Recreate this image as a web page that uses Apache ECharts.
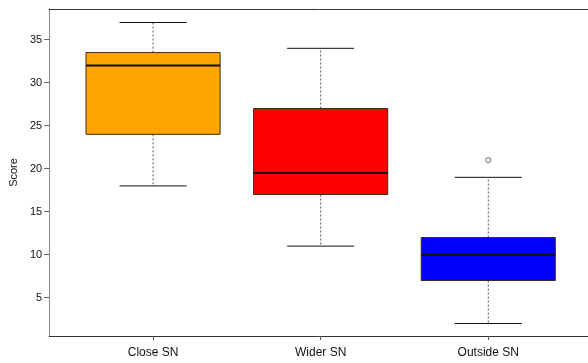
<!DOCTYPE html>
<html><head><meta charset="utf-8">
<script src="https://cdn.jsdelivr.net/npm/echarts@6/dist/echarts.min.js"></script>
<style>html,body{margin:0;padding:0;background:#fff}#c{width:588px;height:363px}</style>
</head><body><div id="c"></div>
<script>
const categories = ['Close SN', 'Wider SN', 'Outside SN'];
const lowerWhisker = [18, 11, 2];
const q1 = [24, 17, 7];
const median = [32, 19.5, 10];
const q3 = [33.5, 27, 12];
const upperWhisker = [37, 34, 19];
const outlierCategory = [2];
const outlierValue = [21];
const yTicks = [5, 10, 15, 20, 25, 30, 35];

const boxColors = ['#FFA500', '#FF0000', '#0000FF'];
const catPos = categories.map((c, i) => i + 1);

const boxData = categories.map((c, i) => [catPos[i], lowerWhisker[i], q1[i], median[i], q3[i], upperWhisker[i]]);
const outData = outlierCategory.map((ci, k) => [catPos[ci], outlierValue[k]]);

const chart = echarts.init(document.getElementById('c'), null, {renderer: 'canvas'});
const font = 'Liberation Sans, Arial, sans-serif';

chart.setOption({
  animation: false,
  backgroundColor: '#fff',
  grid: {left: 48, top: 9, width: 540, bottom: 27, containLabel: false},
  xAxis: [{
    type: 'value', min: 0.38, max: 3.595,
    axisLine: {show: true, lineStyle: {color: '#333', width: 1}},
    splitLine: {show: false},
    axisTick: {show: true, customValues: catPos, length: 4, lineStyle: {color: '#555'}},
    axisLabel: {customValues: catPos, formatter: v => categories[Math.round(v) - 1] || '',
      color: '#111', fontSize: 12, fontFamily: font, margin: 11}
  }, {
    type: 'value', position: 'top', min: 0.38, max: 3.595,
    axisLine: {show: true, onZero: false, lineStyle: {color: '#333', width: 1}},
    splitLine: {show: false}, axisTick: {show: false}, axisLabel: {show: false}
  }],
  yAxis: {
    type: 'value', min: 0.55, max: 38.57,
    name: 'Score', nameLocation: 'middle', nameGap: 29, nameRotate: 90,
    nameTextStyle: {color: '#111', fontSize: 11, fontFamily: font},
    axisLine: {show: true, lineStyle: {color: '#888', width: 1}},
    splitLine: {show: false},
    axisTick: {show: true, customValues: yTicks, length: 5, lineStyle: {color: '#666'}},
    axisLabel: {customValues: yTicks, color: '#111', fontSize: 11, fontFamily: font, margin: 7}
  },
  series: [{
    type: 'custom',
    data: boxData,
    encode: {x: 0, y: [1, 2, 3, 4, 5]},
    renderItem: function (params, api) {
      const xv = api.value(0);
      const idx = params.dataIndex;
      const cx = api.coord([xv, 0])[0];
      const bw = api.size([0.8, 0])[0];
      const capW = bw / 2;
      const yLo = api.coord([xv, api.value(1)])[1];
      const yQ1 = api.coord([xv, api.value(2)])[1];
      const yMed = api.coord([xv, api.value(3)])[1];
      const yQ3 = api.coord([xv, api.value(4)])[1];
      const yHi = api.coord([xv, api.value(5)])[1];
      const dash = {stroke: '#555', lineWidth: 1, lineDash: [2, 2]};
      const solid = {stroke: '#111', lineWidth: 1};
      return {
        type: 'group',
        children: [
          {type: 'line', shape: {x1: cx, y1: yQ3, x2: cx, y2: yHi}, style: dash},
          {type: 'line', shape: {x1: cx, y1: yQ1, x2: cx, y2: yLo}, style: dash},
          {type: 'line', shape: {x1: cx - capW / 2, y1: yHi, x2: cx + capW / 2, y2: yHi}, style: solid},
          {type: 'line', shape: {x1: cx - capW / 2, y1: yLo, x2: cx + capW / 2, y2: yLo}, style: solid},
          {type: 'rect', shape: {x: cx - bw / 2, y: yQ3, width: bw, height: yQ1 - yQ3},
            style: {fill: boxColors[idx], stroke: '#3a2a1a', lineWidth: 1}},
          {type: 'line', shape: {x1: cx - bw / 2, y1: yMed, x2: cx + bw / 2, y2: yMed},
            style: {stroke: '#1a0a0a', lineWidth: 2}}
        ]
      };
    }
  }, {
    type: 'scatter',
    data: outData,
    symbol: 'circle', symbolSize: 5,
    itemStyle: {color: '#fff', borderColor: '#444', borderWidth: 1}
  }]
});
</script></body></html>
